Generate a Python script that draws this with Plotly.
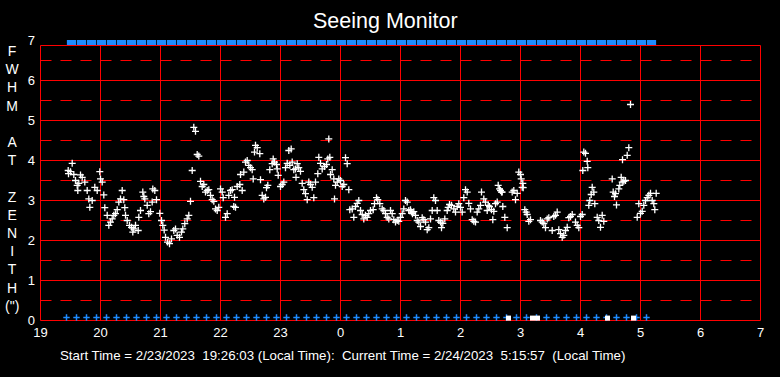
import plotly.graph_objects as go

# ---------------- data ----------------
# seeing samples: minutes after 19:00 on 2/23/2023, FWHM at zenith (arcsec)
sample_minutes = [
    27.7, 28, 30, 31.7, 33.3, 35, 36.7, 37.3, 38.3, 40, 41.7, 44.3, 46.7, 48.3, 49.3, 51.7,
    54.3, 56.7, 59.3, 60, 61.7, 63.3, 64.3, 66.7, 68.3, 70, 71.7, 73.3, 75, 76.7, 78.3, 80,
    81.7, 83.3, 84.3, 85, 86.7, 89, 91, 92.3, 93.3, 95, 97.7, 98.3, 100, 102.3, 103.3, 104.3,
    106.7, 108.3, 110, 111.7, 112.3, 114.3, 116, 119.3, 121, 122.3, 123.7, 125, 127, 129,
    131, 133.3, 135, 136.7, 139, 141, 142.3, 144.3, 146.7, 148.3, 150, 151.7, 153.3, 155,
    156.7, 158.3, 160, 161.7, 163.3, 165, 166.7, 168.3, 170, 171.7, 173.3, 175, 176.7, 178.3,
    180, 181.7, 182.7, 185, 186.7, 188.3, 190, 191.7, 193.3, 194, 195, 196.7, 199.3, 200,
    201.7, 203.3, 205, 206.7, 208.3, 210, 211.7, 212.7, 214, 215, 216.7, 219.3, 220, 221.7,
    223.3, 225, 226, 227.3, 229.3, 231.7, 232.7, 234, 236, 236.7, 237.7, 240, 241.7, 243.3,
    245, 246.7, 248.3, 249.3, 250.7, 251.7, 253.3, 255, 255.5, 256.7, 258.3, 260, 261.7, 263.3,
    265, 266.7, 268.3, 270, 271.7, 273.3, 275, 277.3, 278.3, 280, 281.7, 284, 286, 287.3,
    288.3, 289.3, 290, 291.7, 293.3, 294, 295, 296.7, 298.3, 300, 301.7, 303.3, 305, 306.7,
    308.3, 309.3, 311.7, 313.3, 315, 316.7, 318.3, 320, 321.7, 323.3, 325, 326.7, 328.3, 330,
    332.7, 334, 336, 337.3, 339.3, 341.7, 343.3, 345, 346.7, 348.3, 350, 351.7, 353.3, 355,
    356.7, 358.3, 360, 361.7, 363.3, 365, 366.7, 368.3, 370, 371, 372, 373.3, 375, 376.7,
    378.3, 380, 381.7, 383.3, 385, 386.7, 388.3, 390, 391.7, 393.3, 395, 396.7, 398.3, 400,
    401, 402.3, 404.3, 406.7, 407.7, 409, 411, 413.3, 415, 416.7, 418.3, 420, 421.7, 423.3,
    425, 426.7, 428.3, 430, 431.7, 433.3, 435, 436.7, 438.3, 440, 441, 443.3, 445, 446.7,
    447.7, 449, 451, 452.3, 453.3, 455, 456.7, 457.7, 459, 460, 461, 461.7, 462.3, 464.3,
    466.7, 471.7, 473.3, 475, 476.7, 478.3, 480, 480.7, 481.7, 482.3, 482.7, 484.3, 485.7,
    486.7, 488.3, 490, 500, 501.7, 503.3, 505, 506.7, 508.3, 511.7, 513.3, 515, 516.7, 518.3,
    520, 521.7, 523.3, 525, 526.7, 528.3, 530, 531.7, 535, 536.7, 538.3, 540, 541.7, 542.3,
    543.3, 545, 546.7, 547.3, 548.3, 549.3, 550.7, 551.7, 553.3, 554.3, 556.7, 558.3, 560,
    561.7, 563.3, 571.7, 572.7, 574, 575, 576, 578.3, 579.3, 580.7, 581.7, 582, 583.3, 585,
    586.7, 588.3, 590, 596.7, 598.3, 600, 601.7, 603.3, 605, 606.7, 608.3, 610, 611.7, 613.3,
    614.3, 615.7,
]
fwhm_values = [
    3.75, 3.67, 3.72, 3.93, 3.65, 3.5, 3.38, 3.25, 3.43, 3.64, 3.58, 3.46, 3.25, 3.04, 2.83, 3.0,
    3.33, 3.25, 3.72, 3.54, 3.46, 3.14, 2.82, 2.63, 2.38, 2.46, 2.54, 2.63, 2.67, 2.77, 2.96, 3.04,
    3.25, 3.02, 2.82, 2.63, 2.5, 2.38, 2.33, 2.21, 2.29, 2.38, 2.25, 2.58, 2.75, 3.21, 3.1, 3.04,
    2.88, 2.67, 2.72, 2.96, 3.29, 3.25, 3.02, 2.68, 2.5, 2.38, 2.26, 2.08, 1.96, 1.92,
    2.04, 2.25, 2.29, 2.13, 2.08, 2.21, 2.29, 2.42, 2.54, 2.63, 2.98, 3.75, 4.83, 4.73,
    4.15, 4.11, 3.48, 3.35, 3.4, 3.21, 3.25, 3.27, 3.13, 3.02, 2.98, 2.79, 2.75, 2.83,
    3.29, 3.21, 3.07, 2.58, 2.67, 3.13, 3.25, 3.27, 2.85, 3.08, 2.83, 3.35, 3.4, 3.65,
    3.25, 3.71, 3.96, 4.0, 3.88, 3.82, 3.77, 3.54, 4.21, 4.38, 4.32, 4.17, 3.52, 3.13,
    3.04, 3.08, 3.32, 3.38, 3.77, 3.92, 4.04, 3.96, 3.9, 3.79, 3.63, 3.35, 3.4, 3.46,
    3.82, 3.93, 4.25, 3.88, 4.29, 3.96, 3.77, 3.79, 3.58, 3.92, 3.82, 3.73, 3.43, 3.27,
    3.17, 3.02, 3.46, 3.4, 3.33, 3.07, 3.46, 3.67, 4.08, 3.93, 3.79, 3.85, 3.9, 4.04,
    4.54, 4.08, 3.65, 3.77, 3.54, 3.04, 3.38, 3.46, 3.54, 3.5, 3.35, 3.4, 4.07, 3.92,
    3.27, 2.77, 2.79, 2.58, 2.85, 2.93, 3.0, 2.75, 2.65, 2.54, 2.63, 2.58, 2.67, 2.75,
    2.77, 2.92, 3.07, 3.02, 2.92, 2.79, 2.75, 2.67, 2.58, 2.54, 2.75, 2.67, 2.52, 2.46,
    2.5, 2.48, 2.58, 2.67, 2.79, 3.0, 2.96, 2.75, 2.77, 2.71, 2.67, 2.72, 2.63, 2.5,
    2.46, 2.35, 2.57, 2.52, 2.46, 2.27, 2.32, 2.54, 2.75, 3.07, 3.0, 2.75, 2.5, 2.46,
    2.32, 2.43, 2.54, 2.75, 2.83, 2.9, 2.88, 2.79, 2.71, 2.85, 2.92, 2.83, 2.71, 3.07,
    3.27, 3.21, 2.93, 2.79, 2.52, 2.48, 2.46, 2.71, 2.79, 2.88, 3.21, 3.04, 2.96, 2.75,
    2.88, 2.85, 2.77, 2.52, 2.73, 2.92, 2.96, 3.38, 3.29, 3.25, 3.21, 3.21, 2.85, 2.58,
    2.32, 3.21, 3.25, 3.02, 3.18, 3.71, 3.65, 3.54, 3.33, 3.43, 3.32, 2.77, 2.71,
    2.65, 2.48, 2.52, 2.5, 2.46, 2.42, 2.32, 2.54, 2.57, 2.25, 2.6, 2.63, 2.71, 2.27,
    2.17, 2.08, 2.13, 2.25, 2.33, 2.57, 2.6, 2.65, 2.46, 2.38, 2.32, 2.6, 2.65, 3.75,
    4.21, 4.18, 3.98, 3.82, 2.88, 3.0, 3.15, 3.33, 3.21, 2.92, 2.58, 2.5, 2.33,
    2.63, 2.48, 3.54, 3.21, 3.1, 3.17, 2.89, 3.29, 3.38, 3.58, 3.46, 4.02, 3.48, 3.5,
    4.13, 4.32, 5.4, 2.58, 2.92, 2.68, 2.73, 2.88, 3.0, 3.07, 3.13, 3.18, 3.0, 2.92,
    2.77, 3.18,
]

# status ticks along the top (blue band) and bottom (blue crosses)
top_status_times = (
    "19:31 19:41 19:51 "
    "20:01 20:11 20:21 20:31 20:41 20:51 "
    "21:01 21:11 21:21 21:31 21:41 21:51 "
    "22:01 22:11 22:21 22:31 22:41 22:51 "
    "23:01 23:11 23:21 23:31 23:41 23:51 "
    "00:01 00:11 00:21 00:31 00:41 00:51 "
    "01:01 01:11 01:21 01:31 01:41 01:51 "
    "02:01 02:11 02:21 02:31 02:41 02:51 "
    "03:01 03:11 03:21 03:31 03:41 03:51 "
    "04:01 04:11 04:21 04:31 04:41 04:51 "
    "05:01 05:11"
).split()
bottom_status_times = (
    "19:26 19:36 19:46 19:56 "
    "20:06 20:16 20:26 20:36 20:46 20:56 "
    "21:06 21:16 21:26 21:36 21:46 21:56 "
    "22:06 22:16 22:26 22:36 22:46 22:56 "
    "23:06 23:16 23:26 23:36 23:46 23:56 "
    "00:06 00:16 00:26 00:36 00:46 00:56 "
    "01:06 01:16 01:26 01:36 01:46 01:56 "
    "02:06 02:16 02:26 02:36 02:46 02:56 "
    "03:06 03:16 03:26 03:36 03:46 03:56 "
    "04:06 04:16 04:26 04:36 04:46 04:56 "
    "05:06"
).split()
failed_times = ["02:48", "03:12", "03:17", "04:27", "04:53"]

top_status_level = 6.95
bottom_status_level = 0.075
failed_level = 0.06

hour_ticks = [19, 20, 21, 22, 23, 24, 25, 26, 27, 28, 29, 30, 31]
hour_labels = ["19", "20", "21", "22", "23", "0", "1", "2", "3", "4", "5", "6", "7"]
fwhm_ticks = [0, 1, 2, 3, 4, 5, 6, 7]
half_levels = [0.5, 1.5, 2.5, 3.5, 4.5, 5.5, 6.5]
frame_top = 6.875

title_text = "Seeing Monitor"
footer_text = ("Start Time = 2/23/2023  19:26:03 (Local Time):  "
               "Current Time = 2/24/2023  5:15:57  (Local Time)")
ytitle_text = "F<br>W<br>H<br>M<br> <br>A<br>T<br> <br>Z<br>E<br>N<br>I<br>T<br>H<br>(\")"


def clock_to_hours(s):
    hh, mm = s.split(":")
    h = int(hh) + int(mm) / 60.0
    return h + 24 if h < 12 else h


sample_hours = [19 + m / 60.0 for m in sample_minutes]
top_hours = [clock_to_hours(s) for s in top_status_times]
bottom_hours = [clock_to_hours(s) for s in bottom_status_times]
failed_hours = [clock_to_hours(s) for s in failed_times]

RED = "#ff0000"
BLUE = "#1e8cff"
FONT = "Liberation Sans, Arial, sans-serif"

fig = go.Figure()

fig.add_trace(go.Scatter(
    x=top_hours, y=[top_status_level] * len(top_hours), mode="markers",
    marker=dict(symbol="line-ew", size=6.6, color=BLUE, line=dict(color=BLUE, width=5)),
    cliponaxis=False, hoverinfo="skip", showlegend=False))
fig.add_trace(go.Scatter(
    x=bottom_hours, y=[bottom_status_level] * len(bottom_hours), mode="markers",
    marker=dict(symbol="cross-thin", size=4.6, color=BLUE, line=dict(color=BLUE, width=1.5)),
    cliponaxis=False, hoverinfo="skip", showlegend=False))
fig.add_trace(go.Scatter(
    x=failed_hours, y=[failed_level] * len(failed_hours), mode="markers",
    marker=dict(symbol="square", size=5, color="white", line=dict(width=0)),
    cliponaxis=False, hoverinfo="skip", showlegend=False))
fig.add_trace(go.Scatter(
    x=sample_hours, y=fwhm_values, mode="markers",
    marker=dict(symbol="cross-thin", size=5, color="white", line=dict(color="white", width=1.3)),
    cliponaxis=False, showlegend=False))

shapes = []
for h in hour_ticks:
    shapes.append(dict(type="line", xref="x", yref="y", x0=h, x1=h, y0=0, y1=frame_top,
                       line=dict(color=RED, width=1), layer="below"))
for v in fwhm_ticks[:-1] + [frame_top]:
    shapes.append(dict(type="line", xref="x", yref="y", x0=hour_ticks[0], x1=hour_ticks[-1],
                       y0=v, y1=v, line=dict(color=RED, width=1), layer="below"))
for v in half_levels:
    shapes.append(dict(type="line", xref="x", yref="y", x0=hour_ticks[0], x1=hour_ticks[-1],
                       y0=v, y1=v, line=dict(color=RED, width=1, dash="11px,9px"), layer="below"))

xmin = 19 - 1.5 / 60
fig.update_layout(
    width=780, height=377,
    margin=dict(l=39, r=19, t=40, b=55, autoexpand=False),
    paper_bgcolor="black", plot_bgcolor="black",
    font=dict(family=FONT, color="white", size=13),
    title=dict(text=title_text, x=0.494, xanchor="center", y=1 - 20 / 377, yanchor="middle",
               font=dict(family=FONT, size=21.5, color="white")),
    xaxis=dict(range=[xmin, xmin + 722 / 60], tickvals=hour_ticks, ticktext=hour_labels,
               showgrid=False, zeroline=False, showline=False, ticks="",
               ticklabelstandoff=1,
               tickfont=dict(family=FONT, size=13, color="white"), fixedrange=True),
    yaxis=dict(range=[-0.0375, 7.0125], tickvals=fwhm_ticks,
               showgrid=False, zeroline=False, showline=False, ticks="",
               ticklabelstandoff=3,
               tickfont=dict(family=FONT, size=13, color="white"), fixedrange=True),
    shapes=shapes,
    annotations=[
        dict(text=ytitle_text, xref="paper", yref="paper", x=(12 - 39) / 722, y=(322 - 178.5) / 282,
             xanchor="center", yanchor="middle", showarrow=False, align="center",
             font=dict(family=FONT, size=14, color="white")),
        dict(text=footer_text, xref="paper", yref="paper", x=(342 - 39) / 722, y=(322 - 355) / 282,
             xanchor="center", yanchor="middle", showarrow=False,
             font=dict(family=FONT, size=13.3, color="white")),
    ],
)

fig.write_html("out.html", config={"displayModeBar": False},
               post_script="document.body.style.margin='0px';")
